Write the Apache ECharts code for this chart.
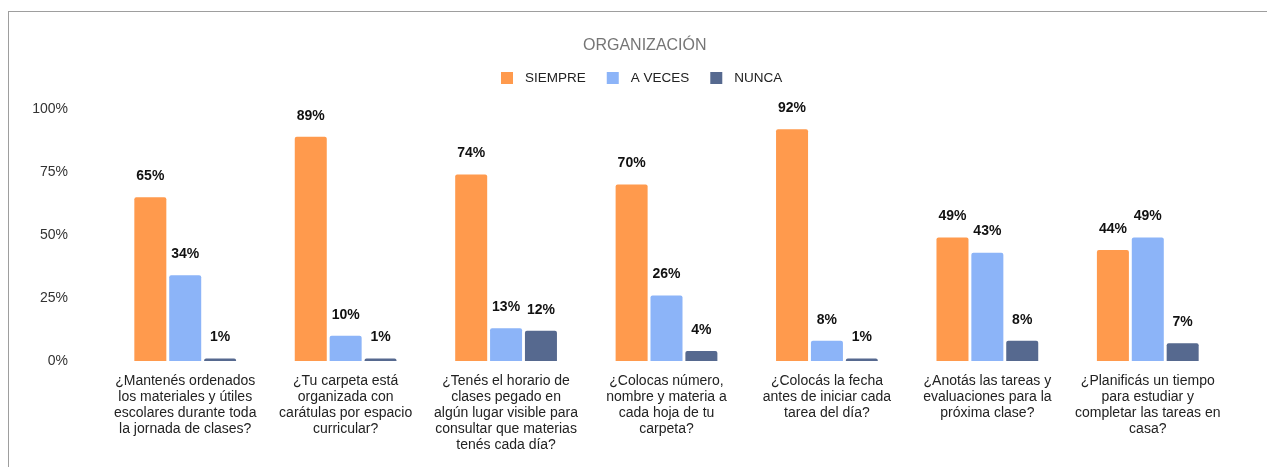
<!DOCTYPE html>
<html>
<head>
<meta charset="utf-8">
<script src="https://cdn.jsdelivr.net/npm/echarts@6/dist/echarts.min.js"></script>
<style>
  html, body { margin: 0; padding: 0; background: #fff; }
  #frame { position: absolute; left: 8px; top: 11px; width: 1400px; height: 600px; border: 1px solid #9e9e9e; box-sizing: border-box; }
  #chart { position: absolute; left: 0; top: 0; width: 1267px; height: 467px; }
</style>
</head>
<body>
<div id="frame"></div>
<div id="chart"></div>
<script>
// preguntas (categorias del eje x)
const categories = [
  '¿Mantenés ordenados\nlos materiales y útiles\nescolares durante toda\nla jornada de clases?',
  '¿Tu carpeta está\norganizada con\ncarátulas por espacio\ncurricular?',
  '¿Tenés el horario de\nclases pegado en\nalgún lugar visible para\nconsultar que materias\ntenés cada día?',
  '¿Colocas número,\nnombre y materia a\ncada hoja de tu\ncarpeta?',
  '¿Colocás la fecha\nantes de iniciar cada\ntarea del día?',
  '¿Anotás las tareas y\nevaluaciones para la\npróxima clase?',
  '¿Planificás un tiempo\npara estudiar y\ncompletar las tareas en\ncasa?'
]
const siempre = [65, 89, 74, 70, 92, 49, 44]
const aVeces = [34, 10, 13, 26, 8, 43, 49]
const nunca = [1, 1, 12, 4, 1, 8, 7]
const yTicks = [0, 25, 50, 75, 100]

const chart = echarts.init(document.getElementById('chart'))
const font = 'Arial, "Liberation Sans", sans-serif'
const colors = ['#ff9a4d', '#8cb4f8', '#56698f']

function barSerie(name, data, color) {
  return {
    name: name,
    type: 'bar',
    data: data,
    barWidth: 32,
    barGap: '9%',
    itemStyle: { color: color, borderRadius: [2, 2, 0, 0] },
    label: {
      show: true,
      position: 'top',
      distance: 14,
      formatter: '{c}%',
      fontFamily: font,
      fontSize: 14,
      fontWeight: 'bold',
      color: '#111'
    }
  }
}

chart.setOption({
  animation: false,
  title: {
    text: 'ORGANIZACIÓN',
    left: 578,
    top: 33,
    textStyle: { fontFamily: font, fontSize: 16, fontWeight: 'normal', color: '#757575' }
  },
  legend: {
    data: ['SIEMPRE', 'A VECES', 'NUNCA'],
    top: 66,
    left: 496,
    icon: 'rect',
    itemWidth: 12,
    itemHeight: 12,
    itemGap: 21,
    textStyle: { fontFamily: font, fontSize: 13.5, color: '#222', padding: [0, 0, 0, 7] }
  },
  grid: { left: 105, right: 39, top: 109, bottom: 106 },
  xAxis: {
    type: 'category',
    data: categories,
    axisLine: { show: false },
    axisTick: { show: false },
    axisLabel: {
      interval: 0,
      margin: 12,
      fontFamily: font,
      fontSize: 14,
      lineHeight: 16,
      color: '#222'
    }
  },
  yAxis: {
    type: 'value',
    min: yTicks[0],
    max: yTicks[yTicks.length - 1],
    interval: 25,
    splitLine: { show: false },
    axisLine: { show: false },
    axisTick: { show: false },
    axisLabel: {
      margin: 37,
      formatter: '{value}%',
      fontFamily: font,
      fontSize: 14,
      color: '#333'
    }
  },
  series: [
    barSerie('SIEMPRE', siempre, colors[0]),
    barSerie('A VECES', aVeces, colors[1]),
    barSerie('NUNCA', nunca, colors[2])
  ]
})
</script>
</body>
</html>
